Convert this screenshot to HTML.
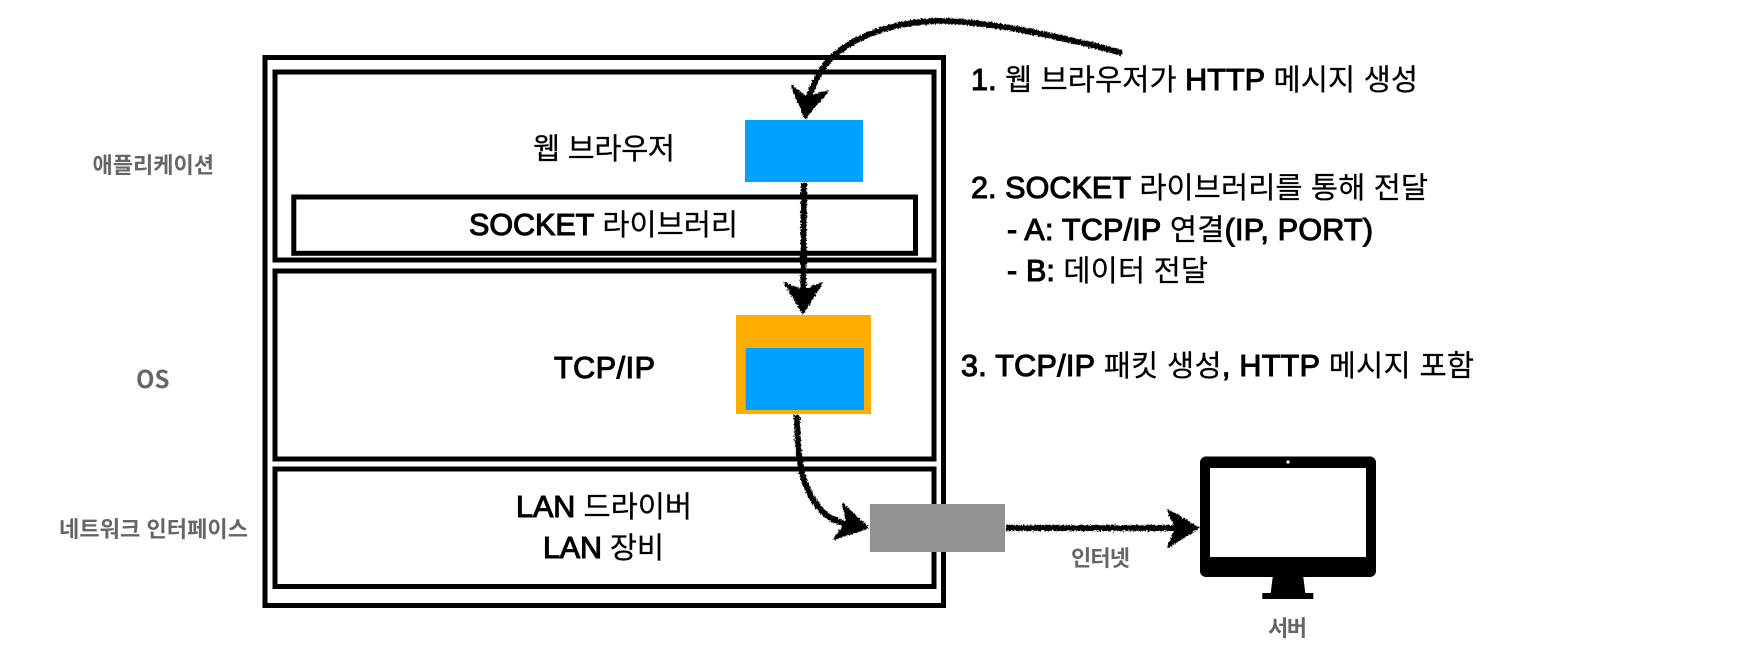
<!DOCTYPE html>
<html lang="ko">
<head>
<meta charset="utf-8">
<style>
html,body{margin:0;padding:0;background:#fff;width:1740px;height:660px;overflow:hidden}
svg{display:block}
text{font-family:"Liberation Sans","Noto Sans CJK KR",sans-serif}
.m{font-size:29.5px;fill:#000;font-weight:400;stroke:#000;stroke-width:.25px}
.m .b{font-size:30.5px;font-weight:400;stroke:#000;stroke-width:1.1px}
.g{font-size:22px;fill:#666;font-weight:700;font-family:"Noto Sans CJK KR","Liberation Sans",sans-serif}
.box{fill:none;stroke:#000;stroke-width:5}
.ar{fill:none;stroke:#000;stroke-width:6}
.hd{fill:#000;stroke:#000;stroke-width:2;stroke-linejoin:round}
</style>
</head>
<body>
<svg width="1740" height="660" viewBox="0 0 1740 660" xmlns="http://www.w3.org/2000/svg">
<defs>
<filter id="chalk" x="-10%" y="-10%" width="120%" height="120%" filterUnits="objectBoundingBox">
<feTurbulence type="fractalNoise" baseFrequency="0.6" numOctaves="2" seed="4" result="n"/>
<feDisplacementMap in="SourceGraphic" in2="n" scale="4.5" xChannelSelector="R" yChannelSelector="G"/>
</filter>
</defs>
<rect width="1740" height="660" fill="#fff"/>

<rect class="box" x="265" y="57.5" width="678.5" height="548"/>
<rect class="box" x="275" y="72" width="659" height="188"/>
<rect class="box" x="275" y="271" width="659" height="188"/>
<rect class="box" x="275" y="469" width="659" height="117.5"/>
<rect class="box" x="293.8" y="197" width="621.7" height="56.3"/>

<rect x="745" y="120" width="118" height="62" fill="#00a2ff"/>
<rect x="736" y="315" width="135" height="99" fill="#ffae00"/>
<rect x="745.7" y="348" width="118.3" height="62" fill="#00a2ff"/>
<rect x="870" y="504" width="135" height="48" fill="#929292"/>

<path d="M1200 462a6 6 0 0 1 6-5.5h164a6 6 0 0 1 6 5.500v109.500a6 6 0 0 1-6 5.500h-164a6 6 0 0 1-6-5.500z" fill="#000"/>
<rect x="1210" y="468" width="156" height="89" fill="#fff"/>
<circle cx="1288" cy="462" r="1.600" fill="#fff"/>
<path d="M1272.700 577h30.600l2 16h8v6h-51v-6h8.400z" fill="#000"/>

<g filter="url(#chalk)">
<path class="ar" d="M1122 53C1060 36 990 22 945 21C890 20 845 40 825 65C815 80 808 95 805 112"/>
<path class="hd" d="M792 86L805 118L827 92L806 97Z"/>
</g>
<g filter="url(#chalk)">
<path class="ar" d="M804 183L803 305"/>
<path class="hd" d="M785 283L803 313L822 283L803 291Z"/>
</g>
<g filter="url(#chalk)">
<path class="ar" d="M797 415C797 470 805 495 825 514C835 522 848 525 860 528"/>
<path class="hd" d="M843 504L868 528L834 539L847 522Z"/>
</g>
<g filter="url(#chalk)">
<path class="ar" d="M1006 528L1190 528"/>
<path class="hd" d="M1168 510L1198 528L1168 547L1176 528Z"/>
</g>

<text class="m" x="971" y="90" textLength="447"><tspan class="b">1.</tspan> 웹 브라우저가 <tspan class="b">HTTP</tspan> 메시지 생성</text>
<text class="m" x="971" y="198" textLength="457"><tspan class="b">2. SOCKET</tspan> 라이브러리를 통해 전달</text>
<text class="m" x="1007" y="240" textLength="366"><tspan class="b">- A: TCP/IP</tspan> 연결<tspan class="b">(IP, PORT)</tspan></text>
<text class="m" x="1007" y="281" textLength="201"><tspan class="b">- B:</tspan> 데이터 전달</text>
<text class="m" x="961" y="376" textLength="513"><tspan class="b">3. TCP/IP</tspan> 패킷 생성<tspan class="b">, HTTP</tspan> 메시지 포함</text>

<text class="m" x="533" y="159" textLength="142">웹 브라우저</text>
<text class="m" x="469" y="235" textLength="269"><tspan class="b">SOCKET</tspan> 라이브러리</text>
<text class="m" x="554" y="378" textLength="101"><tspan class="b">TCP/IP</tspan></text>
<text class="m" x="516" y="517" textLength="176"><tspan class="b">LAN</tspan> 드라이버</text>
<text class="m" x="543" y="558" textLength="121"><tspan class="b">LAN</tspan> 장비</text>

<text class="g" x="92.500" y="173" textLength="121.500">애플리케이션</text>
<text class="g" x="136" y="388" style="font-size:24px">OS</text>
<text class="g" x="59" y="537" textLength="189">네트워크 인터페이스</text>
<text class="g" x="1071" y="566" textLength="59">인터넷</text>
<text class="g" x="1268" y="636" textLength="39">서버</text>
</svg>
</body>
</html>
